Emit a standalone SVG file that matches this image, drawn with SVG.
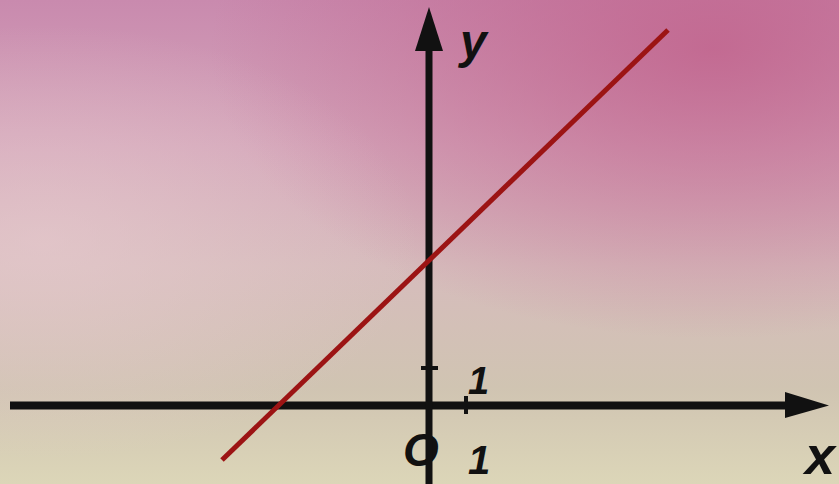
<svg xmlns="http://www.w3.org/2000/svg" width="839" height="484" viewBox="0 0 839 484">
<defs>
<linearGradient id="bg" x1="0" y1="0" x2="0" y2="1">
<stop offset="0" stop-color="#c98aae"/>
<stop offset="0.3" stop-color="#d4a6ba"/>
<stop offset="0.55" stop-color="#d6bcbc"/>
<stop offset="0.8" stop-color="#d0c4b2"/>
<stop offset="1" stop-color="#dcd6b8"/>
</linearGradient>
<radialGradient id="tr" cx="0.85" cy="0.1" r="0.6">
<stop offset="0" stop-color="#c0608a" stop-opacity="0.8"/>
<stop offset="1" stop-color="#c0608a" stop-opacity="0"/>
</radialGradient>
<radialGradient id="ml" cx="0.05" cy="0.5" r="0.45">
<stop offset="0" stop-color="#e8ccd0" stop-opacity="0.6"/>
<stop offset="1" stop-color="#e8ccd0" stop-opacity="0"/>
</radialGradient>
<style>
.lbl{font-family:"Liberation Sans",Arial,sans-serif;font-weight:bold;font-style:italic;fill:#111}
.ax{stroke:#111;fill:none}
.head{fill:#111}
</style>
</defs>
<rect width="839" height="484" fill="url(#bg)"/>
<rect width="839" height="484" fill="url(#tr)"/>
<rect width="839" height="484" fill="url(#ml)"/>
<g id="label-O"><text class="lbl" x="403" y="466" font-size="46">O</text></g>
<g id="connectors">
<line id="x-axis" class="ax" x1="10" y1="405.5" x2="790" y2="405.5" stroke-width="8"/>
<polygon class="head" points="785,392 829,405.5 785,418"/>
<line id="y-axis" class="ax" x1="429" y1="484" x2="429" y2="45" stroke-width="7"/>
<polygon class="head" points="415,51 429,7 443,51"/>
<line class="ax" x1="421" y1="368" x2="438" y2="368" stroke-width="4"/>
<line class="ax" x1="466" y1="396" x2="466" y2="414" stroke-width="4"/>
<line id="graph-line" x1="222" y1="460" x2="668" y2="30" stroke="#9c1414" stroke-width="5"/>
</g>
<g id="label-y"><text class="lbl" x="460" y="58" font-size="48">y</text></g>
<g id="label-x"><text class="lbl" x="805" y="474" font-size="54">x</text></g>
<g id="label-1y"><text class="lbl" x="468" y="394" font-size="38">1</text></g>
<g id="label-1x"><text class="lbl" x="468" y="474" font-size="40">1</text></g>
</svg>
